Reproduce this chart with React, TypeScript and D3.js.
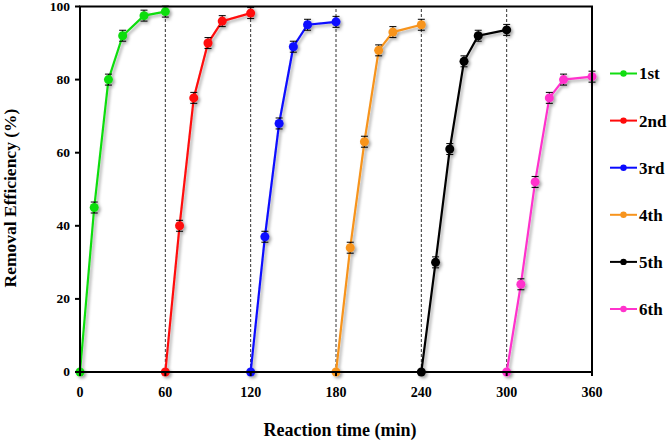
import React from "react";
import * as d3 from "d3";

const seriesNames = ["1st", "2nd", "3rd", "4th", "5th", "6th"];
const seriesColors = ["#11dd11", "#ff0a0a", "#0a0aff", "#f7941d", "#000000", "#ff33cc"];
const times1 = [0, 10, 20, 30, 45, 60];
const values1 = [0, 45, 80, 92, 97.5, 98.6];
const times2 = [60, 70, 80, 90, 100, 120];
const values2 = [0, 40, 75, 90, 96, 98.2];
const times3 = [120, 130, 140, 150, 160, 180];
const values3 = [0, 37, 68, 89, 95, 95.8];
const times4 = [180, 190, 200, 210, 220, 240];
const values4 = [0, 34, 63, 88, 93, 95];
const times5 = [240, 250, 260, 270, 280, 300];
const values5 = [0, 30, 61, 85, 92, 93.6];
const times6 = [300, 310, 320, 330, 340, 360];
const values6 = [0, 24, 52, 75, 80, 80.8];
const errors = [0, 1.5, 1.5, 1.5, 1.5, 1.5];
const xTicks = [0, 60, 120, 180, 240, 300, 360];
const yTicks = [0, 20, 40, 60, 80, 100];
const cycleBoundaries = [60, 120, 180, 240, 300];

const allTimes = [times1, times2, times3, times4, times5, times6];
const allValues = [values1, values2, values3, values4, values5, values6];

export default function App() {
  const W = 669, H = 442;
  const left = 80, right = 592, top = 6.5, bottom = 372;
  const x = d3.scaleLinear().domain([0, 360]).range([left, right]);
  const y = d3.scaleLinear().domain([0, 100]).range([bottom, top]);
  const line = d3.line<[number, number]>().x(d => x(d[0])).y(d => y(d[1]));
  const font = "'Liberation Serif', 'Times New Roman', serif";

  return (
    <svg width={W} height={H} style={{ position: "absolute", left: 0, top: 0 }} fontFamily={font}>
      <defs>
        <filter id="sh" x="-20%" y="-20%" width="140%" height="140%">
          <feDropShadow dx="2" dy="2" stdDeviation="1.4" floodColor="#000" floodOpacity="0.35" />
        </filter>
      </defs>
      <rect width={W} height={H} fill="#fff" />
      {cycleBoundaries.map(t => (
        <line key={t} x1={x(t)} x2={x(t)} y1={y(0)} y2={y(100)} stroke="#333" strokeWidth={1} strokeDasharray="3,2" />
      ))}
      {allTimes.map((ts, si) => {
        const pts: [number, number][] = ts.map((t, i) => [t, allValues[si][i]]);
        const c = seriesColors[si];
        return (
          <g key={si} filter="url(#sh)">
            <path d={line(pts) || ""} fill="none" stroke={c} strokeWidth={2.2} />
            {pts.map(([t, v], i) =>
              errors[i] > 0 ? (
                <g key={"e" + i} stroke="#000" strokeWidth={1}>
                  <line x1={x(t)} x2={x(t)} y1={y(v + errors[i])} y2={y(v - errors[i])} />
                  <line x1={x(t) - 3.5} x2={x(t) + 3.5} y1={y(v + errors[i])} y2={y(v + errors[i])} />
                  <line x1={x(t) - 3.5} x2={x(t) + 3.5} y1={y(v - errors[i])} y2={y(v - errors[i])} />
                </g>
              ) : null
            )}
            {pts.map(([t, v], i) => (
              <circle key={"c" + i} cx={x(t)} cy={y(v)} r={4.5} fill={c} />
            ))}
          </g>
        );
      })}
      <rect x={left} y={top} width={right - left} height={bottom - top} fill="none" stroke="#000" strokeWidth={2} />
      {yTicks.map(t => (
        <g key={"y" + t}>
          <line x1={left - 5} x2={left} y1={y(t)} y2={y(t)} stroke="#000" strokeWidth={2} />
          <text x={left - 10} y={y(t)} dy="0.33em" textAnchor="end" fontSize={13.5} fontWeight="bold">{t}</text>
        </g>
      ))}
      {xTicks.map(t => (
        <g key={"x" + t}>
          <line x1={x(t)} x2={x(t)} y1={bottom} y2={bottom + 4} stroke="#000" strokeWidth={2} />
          <text x={x(t)} y={bottom + 25} textAnchor="middle" fontSize={14} fontWeight="bold">{t}</text>
        </g>
      ))}
      <text x={340} y={436} textAnchor="middle" fontSize={18} fontWeight="bold">Reaction time (min)</text>
      <text transform={`translate(16,198) rotate(-90)`} textAnchor="middle" fontSize={17.5} fontWeight="bold">Removal Efficiency (%)</text>
      {seriesNames.map((n, i) => {
        const ly = 73.5 + i * 47.1;
        return (
          <g key={n}>
            <line x1={610} x2={637} y1={ly} y2={ly} stroke={seriesColors[i]} strokeWidth={2} />
            <circle cx={623.5} cy={ly} r={3.2} fill={seriesColors[i]} />
            <text x={639} y={ly} dy="0.35em" fontSize={17} fontWeight="bold">{n}</text>
          </g>
        );
      })}
    </svg>
  );
}
